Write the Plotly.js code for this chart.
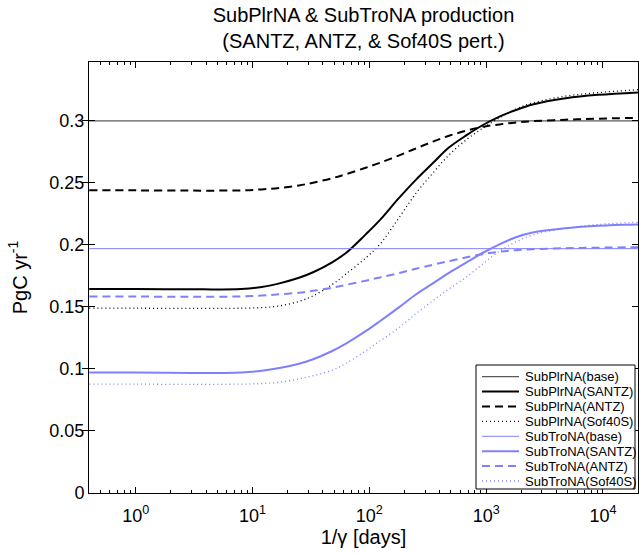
<!DOCTYPE html>
<html><head><meta charset="utf-8">
<script src="https://cdn.plot.ly/plotly-3.0.1.min.js"></script>
<style>html,body{margin:0;padding:0;background:#fff}#chart{width:639px;height:555px}</style>
</head><body><div id="chart"></div>
<script>
// 1/gamma [days]
const days = [0.4, 1, 3, 8, 12, 17, 25, 33, 48, 63, 93, 123, 178, 250, 350, 480, 680, 930, 1300, 1800, 2500, 4800, 9100, 20000];
const baseDays = [0.4, 20000];

const plrBase   = [0.300, 0.300];
const plrSANTZ  = [0.1645,0.1645,0.1642,0.1645,0.1660,0.1690,0.1735,0.1780,0.1860,0.1935,0.2085,0.2200,0.2375,0.2525,0.2660,0.2785,0.2885,0.2965,0.3035,0.3088,0.3132,0.3182,0.3210,0.3230];
const plrANTZ   = [0.2440,0.2440,0.2438,0.2440,0.2448,0.2460,0.2480,0.2502,0.2538,0.2570,0.2622,0.2662,0.2720,0.2778,0.2833,0.2880,0.2922,0.2952,0.2972,0.2988,0.2998,0.3010,0.3018,0.3025];
const plrSof40S = [0.1490,0.1490,0.1488,0.1490,0.1495,0.1508,0.1545,0.1590,0.1680,0.1765,0.1895,0.2005,0.2215,0.2415,0.2580,0.2725,0.2850,0.2940,0.3025,0.3095,0.3145,0.3200,0.3228,0.3252];

const troBase   = [0.197, 0.197];
const troSANTZ  = [0.0972,0.0972,0.0968,0.0972,0.0985,0.1007,0.1042,0.1078,0.1145,0.1205,0.1305,0.1385,0.1495,0.1600,0.1690,0.1775,0.1860,0.1935,0.2005,0.2062,0.2100,0.2135,0.2155,0.2165];
const troANTZ   = [0.1584,0.1584,0.1582,0.1585,0.1592,0.1602,0.1615,0.1630,0.1655,0.1678,0.1712,0.1738,0.1772,0.1808,0.1840,0.1870,0.1900,0.1925,0.1945,0.1958,0.1966,0.1974,0.1978,0.1982];
const troSof40S = [0.0878,0.0878,0.0875,0.0878,0.0882,0.0893,0.0920,0.0945,0.0990,0.1045,0.1145,0.1225,0.1330,0.1445,0.1550,0.1645,0.1742,0.1845,0.1950,0.2025,0.2080,0.2135,0.2165,0.2183];

const legendLabels = ['SubPlrNA(base)','SubPlrNA(SANTZ)','SubPlrNA(ANTZ)','SubPlrNA(Sof40S)',
                      'SubTroNA(base)','SubTroNA(SANTZ)','SubTroNA(ANTZ)','SubTroNA(Sof40S)'];
const xTickVals = [1, 10, 100, 1000, 10000];
const xTickText = ['10<sup>0</sup>','10<sup>1</sup>','10<sup>2</sup>','10<sup>3</sup>','10<sup>4</sup>'];
const yTickVals = [0, 0.05, 0.1, 0.15, 0.2, 0.25, 0.3];
const yTickText = ['0','0.05','0.1','0.15','0.2','0.25','0.3'];

const BLACK = '#000000', GREY = '#333333', BLUE = 'rgb(128,128,255)';
const DASH = '8px,5px', DOT = '1px,3px';
const styles = [
  {color: GREY,  width: 1,   dash: 'solid'},
  {color: BLACK, width: 2,   dash: 'solid'},
  {color: BLACK, width: 2,   dash: DASH},
  {color: BLACK, width: 1.3, dash: DOT},
  {color: BLUE,  width: 1,   dash: 'solid'},
  {color: BLUE,  width: 2,   dash: 'solid'},
  {color: BLUE,  width: 2,   dash: DASH},
  {color: BLUE,  width: 1.3, dash: DOT}
];
const series = [
  [baseDays, plrBase], [days, plrSANTZ], [days, plrANTZ], [days, plrSof40S],
  [baseDays, troBase], [days, troSANTZ], [days, troANTZ], [days, troSof40S]
];
const traces = series.map((s, i) => ({
  x: s[0], y: s[1], type: 'scatter', mode: 'lines', name: legendLabels[i],
  line: Object.assign({shape: 'spline', smoothing: 1}, styles[i]),
  showlegend: false, hoverinfo: 'skip'
}));
// invisible helper trace so the top (mirror) axis is drawn with its minor ticks
traces.push({x: baseDays, y: plrBase, xaxis: 'x2', type: 'scatter', mode: 'lines',
  line: {width: 0}, opacity: 0, showlegend: false, hoverinfo: 'skip'});

// plot area in pixels
const W = 639, H = 555, L = 89, R = 638, T = 62, B = 493;
const px = v => (v - L) / (R - L);
const py = v => (B - v) / (B - T);

const shapes = [];
const annotations = [];
// legend box
shapes.push({type: 'rect', xref: 'paper', yref: 'paper', x0: px(476), x1: px(635), y0: py(489), y1: py(365),
  line: {color: BLACK, width: 1}, fillcolor: 'white', layer: 'above'});
legendLabels.forEach((lab, i) => {
  const yc = 376.7 + i * 14.9;
  const st = styles[i];
  shapes.push({type: 'line', xref: 'paper', yref: 'paper', x0: px(482), x1: px(519), y0: py(yc), y1: py(yc),
    line: {color: st.color, width: st.width, dash: st.dash}, layer: 'above'});
  annotations.push({xref: 'paper', yref: 'paper', x: px(523), y: py(yc), xanchor: 'left', yanchor: 'middle',
    text: lab, showarrow: false, font: {size: 13, color: BLACK}});
});

const axisCommon = {
  showline: true, linecolor: BLACK, linewidth: 1, mirror: 'allticks',
  ticks: 'inside', ticklen: 6, tickwidth: 1, tickcolor: BLACK,
  showgrid: false, zeroline: false, tickfont: {size: 18, color: BLACK}
};
const xMinor = {ticks: 'inside', ticklen: 3, dtick: 'D1', tickcolor: BLACK, showgrid: false};

const layout = {
  width: W, height: H,
  margin: {l: L, r: W - R, t: T, b: H - B},
  paper_bgcolor: 'white', plot_bgcolor: 'white',
  font: {family: '"Liberation Sans", Arial, sans-serif', color: BLACK},
  title: {text: 'SubPlrNA &amp; SubTroNA production<br>(SANTZ, ANTZ, &amp; Sof40S pert.)',
    font: {size: 20, color: BLACK}, x: ((L + R) / 2) / W, xref: 'container', xanchor: 'center',
    y: 1 - 22 / H, yref: 'container', yanchor: 'top'},
  xaxis: Object.assign({}, axisCommon, {
    type: 'log', range: [-0.4, 4.3],
    tickmode: 'array', tickvals: xTickVals, ticktext: xTickText,
    ticklabelstandoff: 6,
    minor: xMinor,
    title: {text: '1/γ [days]', font: {size: 20, color: BLACK}, standoff: 4}
  }),
  xaxis2: {
    overlaying: 'x', side: 'top', anchor: 'y', type: 'log', range: [-0.4, 4.3],
    tickmode: 'array', tickvals: xTickVals, showticklabels: false,
    ticks: 'inside', ticklen: 6, tickwidth: 1, tickcolor: BLACK,
    showline: false, showgrid: false, zeroline: false,
    minor: xMinor
  },
  yaxis: Object.assign({}, axisCommon, {
    range: [0, 0.3475],
    tickmode: 'array', tickvals: yTickVals, ticktext: yTickText,
    title: {text: 'PgC yr<sup>-1</sup>', font: {size: 20, color: BLACK}, standoff: 16}
  }),
  shapes: shapes,
  annotations: annotations,
  showlegend: false
};

Plotly.newPlot('chart', traces, layout, {staticPlot: true, displayModeBar: false});
</script></body></html>
